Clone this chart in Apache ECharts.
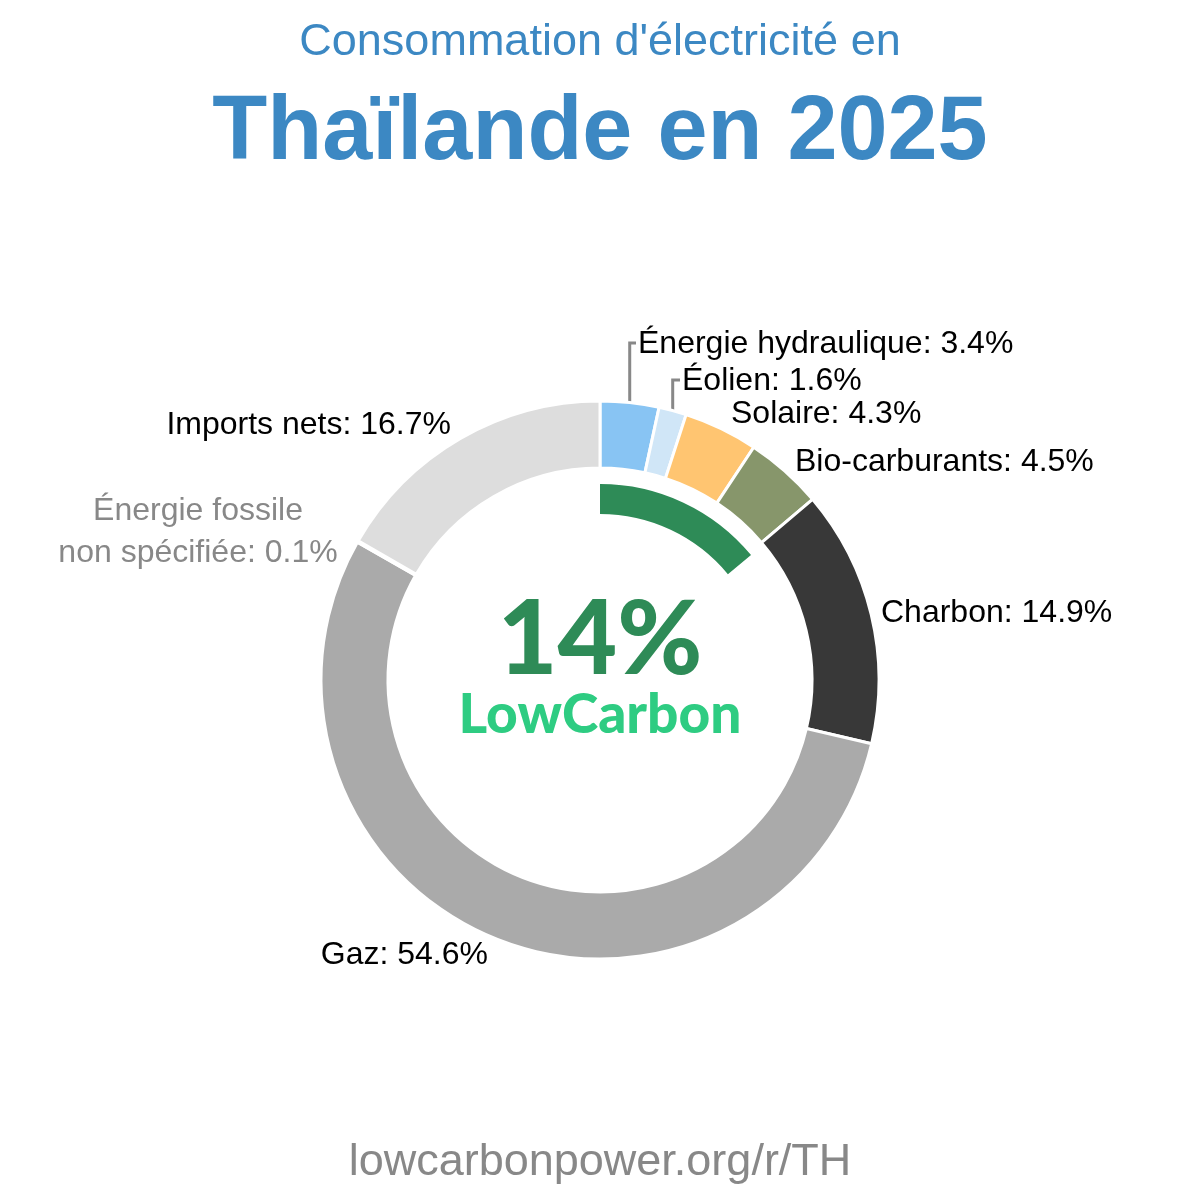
<!DOCTYPE html>
<html><head><meta charset="utf-8">
<script src="https://cdn.jsdelivr.net/npm/echarts@6/dist/echarts.min.js"></script>
<style>html,body{margin:0;padding:0;background:#fff}#c{width:1200px;height:1200px}</style>
</head><body><div id="c"></div>
<script>
const categories = ["Énergie hydraulique","Éolien","Solaire","Bio-carburants","Charbon","Gaz","Énergie fossile\nnon spécifiée","Imports nets"];
const values = [3.4,1.6,4.3,4.5,14.9,54.6,0.1,16.7];
const colors = ["#88C4F3","#D0E6F7","#FFC571","#87966B","#383838","#AAAAAA","#AAAAAA","#DDDDDD"];
const lowCarbonShare = 14;

// label anchor placement (layout only)
const labelPos = [
  {x:638,y:344,align:'left',line:true},
  {x:682,y:381,align:'left',line:true},
  {x:731,y:414,align:'left'},
  {x:795,y:462,align:'left'},
  {x:881,y:613,align:'left'},
  {x:488,y:955,align:'right'},
  {x:198,y:532,align:'center',color:'#888888'},
  {x:451,y:425,align:'right'}
];

const chart = echarts.init(document.getElementById('c'));
chart.setOption({
  animation:false,
  title:[
    {text:"Consommation d'électricité en",left:'center',top:15,textStyle:{fontFamily:'Liberation Sans',fontSize:45,fontWeight:'normal',color:'#3C88C3'}},
    {text:"Thaïlande en 2025",left:'center',top:84,textStyle:{fontFamily:'Liberation Sans',fontSize:90,fontWeight:'bold',color:'#3C88C3'}},
    {text:"lowcarbonpower.org/r/TH",left:'center',top:1135,textStyle:{fontFamily:'Liberation Sans',fontSize:45,fontWeight:'normal',color:'#888888'}},
    {text:lowCarbonShare+"%",left:'center',top:584,textStyle:{fontFamily:'Lato',fontSize:103,fontWeight:900,color:'#2E8B57'}},
    {text:"LowCarbon",left:'center',top:683,textStyle:{fontFamily:'Lato',fontSize:55,fontWeight:900,color:'#2ECC82'}}
  ],
  series:[
    {
      type:'pie',
      center:[600,680],
      radius:[212,279],
      startAngle:90,
      clockwise:true,
      avoidLabelOverlap:false,
      itemStyle:{borderColor:'#ffffff',borderWidth:3},
      label:{
        show:true,position:'outside',fontFamily:'Liberation Sans',fontSize:32,color:'#000',
        formatter:p=>p.name+': '+p.value+'%',lineHeight:42
      },
      labelLine:{show:true,lineStyle:{color:'#888888',width:3}},
      labelLayout:function(params){
        const lp = labelPos[params.dataIndex];
        const res = {x:lp.x,y:lp.y,align:lp.align,verticalAlign:'middle',hideOverlap:false};
        if(lp.line && params.labelLinePoints){
          const p0 = params.labelLinePoints[0];
          res.labelLinePoints=[[p0[0],p0[1]],[p0[0],lp.y-1],[lp.x-2,lp.y-1]];
        } else {
          res.labelLinePoints=[[0,0],[0,0],[0,0]];
        }
        return res;
      },
      data:categories.map((c,i)=>({
        name:c,value:values[i],
        itemStyle:{color:colors[i]},
        label:labelPos[i].color?{color:labelPos[i].color}:undefined,
        labelLine:{show:!!labelPos[i].line}
      }))
    },
    {
      type:'pie',
      center:[600,680],
      radius:[166,196],
      startAngle:90,
      clockwise:true,
      silent:true,
      label:{show:false},labelLine:{show:false},
      data:[
        {value:lowCarbonShare,itemStyle:{color:'#2E8B57'}},
        {value:100-lowCarbonShare,itemStyle:{color:'rgba(0,0,0,0)'}}
      ]
    }
  ]
});
</script></body></html>
